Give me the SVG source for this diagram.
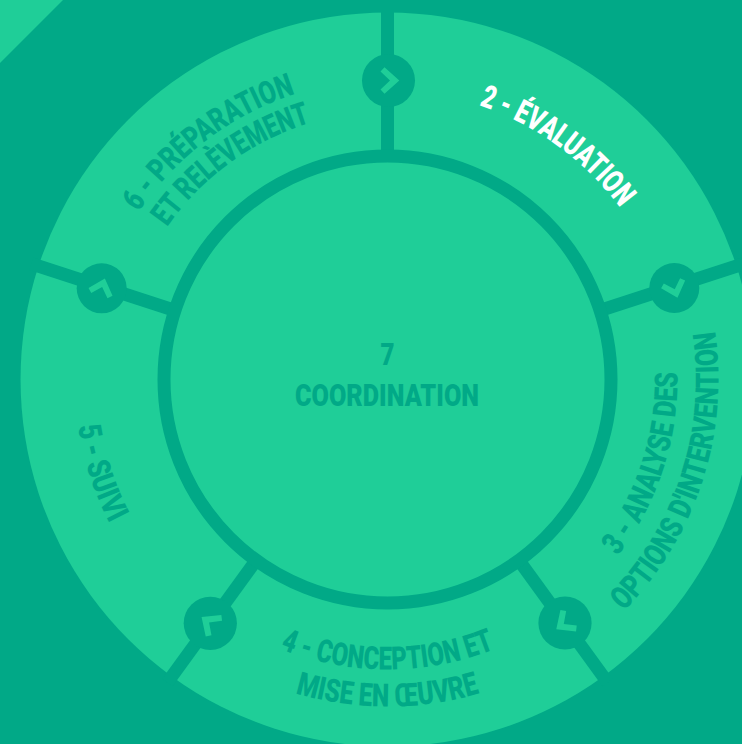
<svg xmlns="http://www.w3.org/2000/svg" width="742" height="744" viewBox="0 0 742 744">
<style>
.bg{fill:#01a987}
.seg{fill:#1fce98}
.sep{stroke:#01a987;stroke-width:13;fill:none}
.hub{fill:#01a987}
.chev{fill:#1fce98}
.t{font-family:"Roboto","Liberation Sans",sans-serif;font-weight:900;font-size:32px;fill:#01a987;text-anchor:middle}
.w{fill:#fff}
</style>
<defs>
<path id="cw268" d="M119.5 379.5A268 268 0 0 1 655.5 379.5"/>
<path id="cw289" d="M98.5 379.5A289 289 0 0 1 676.5 379.5"/>
<path id="cw300" d="M87.5 379.5A300 300 0 0 1 687.5 379.5"/>
<path id="ccw290" d="M97.5 379.5A290 290 0 0 0 677.5 379.5"/>
<path id="ccw313" d="M74.5 379.5A313 313 0 0 0 700.5 379.5"/>
<path id="ccw327" d="M60.5 379.5A327 327 0 0 0 714.5 379.5"/>
<path id="ccw331" d="M56.5 379.5A331 331 0 0 0 718.5 379.5"/>
<path id="chev" class="chev" d="M-4 -13.3L10.8 0L-4 13.3L-8 9L1.5 0L-8 -9Z"/>
</defs>
<rect class="bg" width="742" height="744"/>
<path class="seg" d="M0 0H63L0 63Z"/>
<g id="step-2"><path class="seg" d="M387.5 379.5V12.5A367 367 0 0 1 736.5 266.1Z"/><text class="t w" transform="rotate(36 387.5 379.5)"><textPath href="#cw289" startOffset="50%" textLength="177" lengthAdjust="spacingAndGlyphs">2 - ÉVALUATION</textPath></text></g>
<g id="step-3"><path class="seg" d="M387.5 379.5L736.5 266.1A367 367 0 0 1 603.2 676.4Z"/><text class="t" transform="rotate(-72 387.5 379.5)"><textPath href="#ccw290" startOffset="50%" textLength="197" lengthAdjust="spacingAndGlyphs">3 - ANALYSE DES</textPath></text><text class="t" transform="rotate(-72 387.5 379.5)"><textPath href="#ccw331" startOffset="50%" textLength="305" lengthAdjust="spacingAndGlyphs">OPTIONS D'INTERVENTION</textPath></text></g>
<g id="step-4"><path class="seg" d="M387.5 379.5L603.2 676.4A367 367 0 0 1 171.8 676.4Z"/><text class="t"><textPath href="#ccw290" startOffset="50%" textLength="220" lengthAdjust="spacingAndGlyphs">4 - CONCEPTION ET</textPath></text><text class="t"><textPath href="#ccw327" startOffset="50%" textLength="187" lengthAdjust="spacingAndGlyphs">MISE EN ŒUVRE</textPath></text></g>
<g id="step-5"><path class="seg" d="M387.5 379.5L171.8 676.4A367 367 0 0 1 38.5 266.1Z"/><text class="t" transform="rotate(72 387.5 379.5)"><textPath href="#ccw313" startOffset="50%" textLength="103" lengthAdjust="spacingAndGlyphs">5 - SUIVI</textPath></text></g>
<g id="step-6"><path class="seg" d="M387.5 379.5L38.5 266.1A367 367 0 0 1 387.5 12.5Z"/><text class="t" transform="rotate(-37 387.5 379.5)"><textPath href="#cw300" startOffset="50%" textLength="200" lengthAdjust="spacingAndGlyphs">6 - PRÉPARATION</textPath></text><text class="t" transform="rotate(-36 387.5 379.5)"><textPath href="#cw268" startOffset="50%" textLength="181" lengthAdjust="spacingAndGlyphs">ET RELÈVEMENT</textPath></text></g>
<g id="connectors">
<line class="sep" x1="387.5" y1="165" x2="387.5" y2="5"/>
<line class="sep" x1="387.5" y1="165" x2="387.5" y2="5" transform="rotate(72 387.5 379.5)"/>
<line class="sep" x1="387.5" y1="165" x2="387.5" y2="5" transform="rotate(144 387.5 379.5)"/>
<line class="sep" x1="387.5" y1="165" x2="387.5" y2="5" transform="rotate(216 387.5 379.5)"/>
<line class="sep" x1="387.5" y1="165" x2="387.5" y2="5" transform="rotate(288 387.5 379.5)"/>
<circle class="hub" cx="388.5" cy="80.5" r="26.5"/><use href="#chev" transform="translate(388.5 80.5)"/>
<circle class="hub" cx="674.3" cy="288" r="25"/><use href="#chev" transform="translate(674.3 288) rotate(72) scale(.95)"/>
<circle class="hub" cx="565" cy="623" r="26.6"/><use href="#chev" transform="translate(565 623) rotate(144)"/>
<circle class="hub" cx="210.3" cy="623.3" r="26.6"/><use href="#chev" transform="translate(210.3 623.3) rotate(216)"/>
<circle class="hub" cx="101.7" cy="288.3" r="25"/><use href="#chev" transform="translate(101.7 288.3) rotate(288) scale(.95)"/>
</g>
<g id="step-7"><circle cx="387.5" cy="379.5" r="223.5" fill="#1fce98" stroke="#01a987" stroke-width="13"/><text class="t" x="387.5" y="365" textLength="14" lengthAdjust="spacingAndGlyphs">7</text><text class="t" x="387" y="406" textLength="184" lengthAdjust="spacingAndGlyphs">COORDINATION</text></g>
</svg>
